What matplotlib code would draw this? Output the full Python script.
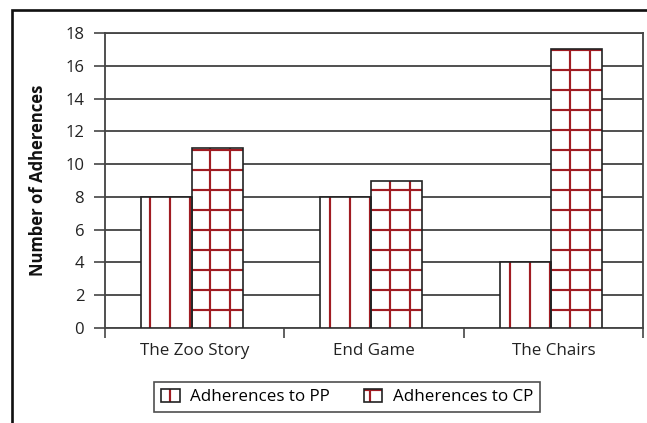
import matplotlib
matplotlib.use("Agg")
import matplotlib.pyplot as plt
import numpy as np
from matplotlib.patches import Rectangle, Patch
from matplotlib.legend_handler import HandlerTuple

categories = ["The Zoo Story", "End Game", "The Chairs"]
pp_values = [8, 8, 4]
cp_values = [11, 9, 17]
series_names = ["Adherences to PP", "Adherences to CP"]
y_ticks = [0, 2, 4, 6, 8, 10, 12, 14, 16, 18]

DPI = 120
plt.rcParams['font.family'] = ['Open Sans', 'DejaVu Sans']
plt.rcParams['hatch.linewidth'] = 1.3

red = '#a01c22'
edge = '#222222'
gridc = '#454545'

fig = plt.figure(figsize=(647 / DPI, 423 / DPI), dpi=DPI)
ax = fig.add_axes([105 / 647, 1 - 328 / 423, (643 - 105) / 647, (328 - 33) / 423])

x = np.arange(len(categories))
w = 0.285
off = -0.015

# hatch layers
ax.bar(x + off - w / 2, pp_values, w, facecolor='white', edgecolor=red, hatch='|', linewidth=0, zorder=3)
ax.bar(x + off + w / 2, cp_values, w, facecolor='white', edgecolor=red, hatch='+', linewidth=0, zorder=3)
# outline layers
ax.bar(x + off - w / 2, pp_values, w, facecolor='none', edgecolor=edge, linewidth=1.0, zorder=4)
ax.bar(x + off + w / 2, cp_values, w, facecolor='none', edgecolor=edge, linewidth=1.0, zorder=4)

ax.set_xlim(-0.5, len(categories) - 0.5)
ax.set_ylim(0, 18)
ax.set_yticks(y_ticks)
ax.yaxis.grid(True, color=gridc, linewidth=1.1, zorder=0)
ax.set_axisbelow(True)

ax.set_xticks(x)
ax.set_xticklabels(categories, fontsize=10.2, color='#222222')
ax.set_xticks(np.arange(len(categories) + 1) - 0.5, minor=True)
ax.tick_params(axis='x', which='major', length=0, pad=9)
ax.tick_params(axis='x', which='minor', length=6, width=1.0, color=gridc, direction='out')
ax.tick_params(axis='y', length=6.5, width=1.0, color=gridc, pad=6, labelsize=10, labelcolor='#222222')

for s in ['left', 'bottom', 'top', 'right']:
    ax.spines[s].set_color(gridc)
    ax.spines[s].set_linewidth(1.1)

ax.set_ylabel("Number of Adherences", fontsize=10, fontweight='bold', color='#111111', labelpad=11)

# legend
h_pp = (Patch(facecolor='white', edgecolor=red, hatch='|', linewidth=0),
        Patch(facecolor='none', edgecolor=edge, linewidth=1.0))
h_cp = (Patch(facecolor='white', edgecolor=red, hatch='+', linewidth=0),
        Patch(facecolor='none', edgecolor=edge, linewidth=1.0))
leg = fig.legend([h_pp, h_cp], series_names, handler_map={tuple: HandlerTuple(ndivide=1, pad=0)},
                 loc='center', bbox_to_anchor=(347 / 647, 1 - 397 / 423), ncol=2,
                 fontsize=10.2, frameon=True, fancybox=False, edgecolor='#222222',
                 handlelength=1.1, handleheight=0.8, columnspacing=2.0, handletextpad=0.6,
                 borderpad=0.4)
leg.get_frame().set_linewidth(1.0)

# outer figure frame (top and left visible)
fig.patches.append(Rectangle((12 / 647, -0.1), 1.2, 1 - 10 / 423 + 0.1, transform=fig.transFigure,
                             fill=False, edgecolor='#111111', linewidth=1.6, zorder=0))

fig.savefig("out.png", dpi=DPI)
